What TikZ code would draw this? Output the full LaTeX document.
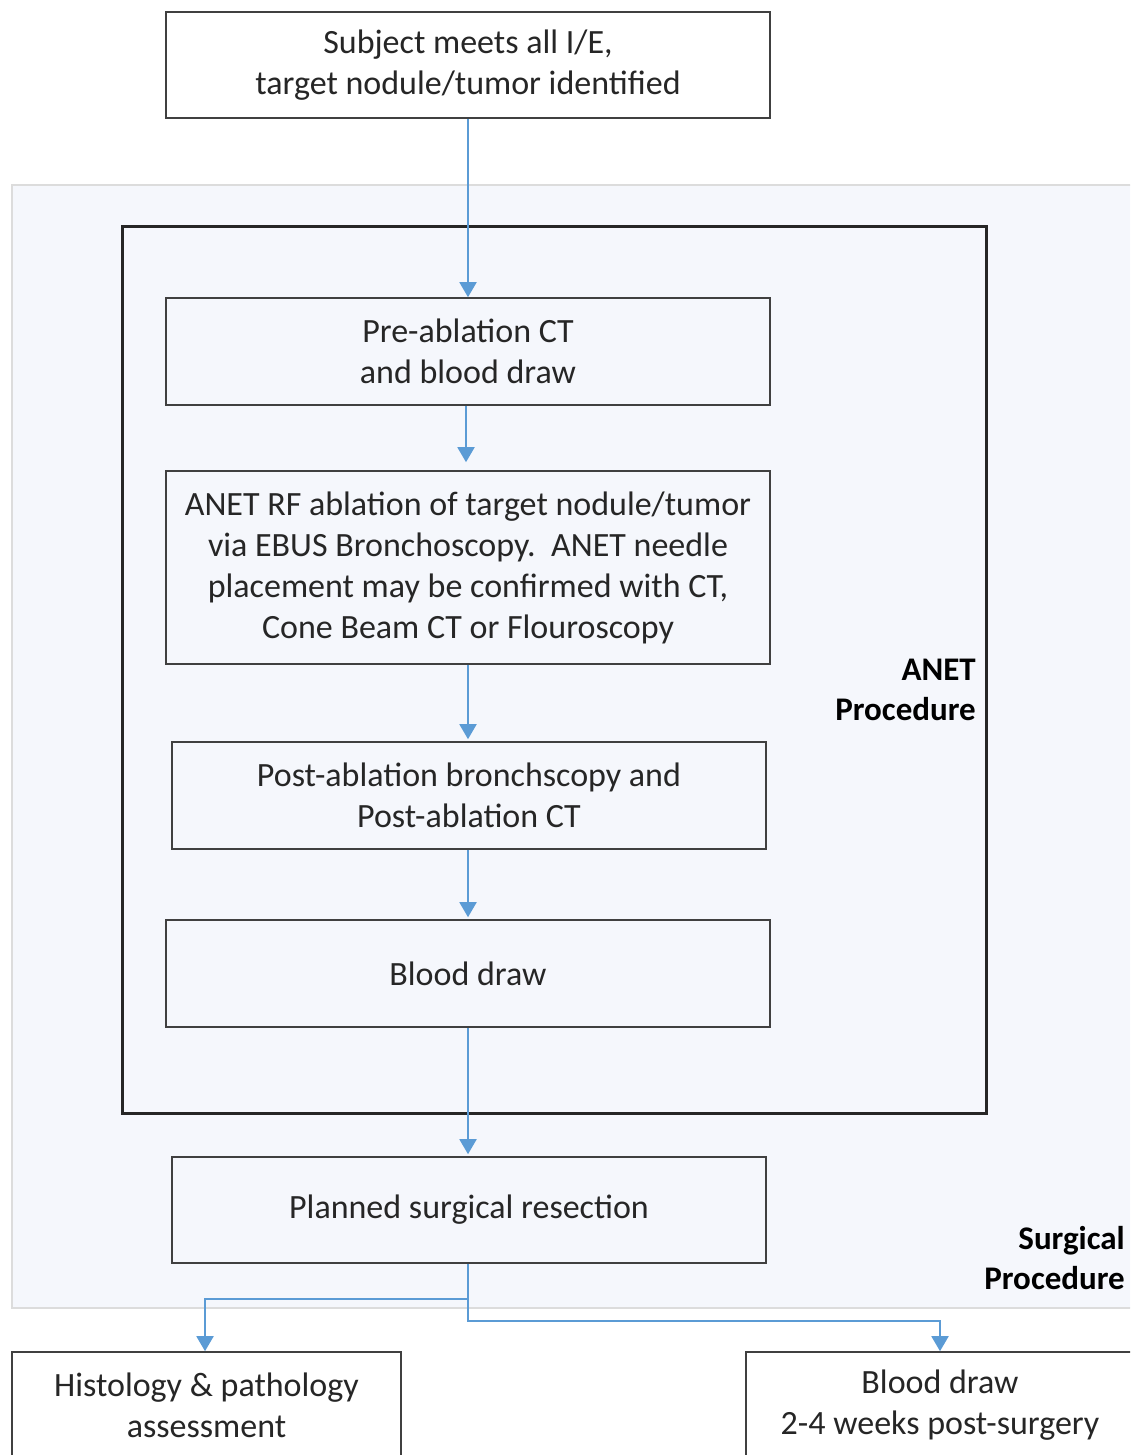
\documentclass[tikz,border=0pt]{standalone}
\usepackage{fontspec}
\setmainfont{Carlito}
\usetikzlibrary{arrows.meta}
\definecolor{arrc}{HTML}{5B9BD5}
\definecolor{boxc}{HTML}{404040}
\definecolor{txtc}{HTML}{262626}
\definecolor{panelfill}{HTML}{F5F7FC}
\definecolor{panelline}{HTML}{DCDCDC}
\begin{document}
\begin{tikzpicture}[x=1pt,y=-1pt,
  stepbox/.style={draw=boxc, line width=1.6pt, inner sep=0pt, align=center,
    text=txtc, font=\fontsize{34}{41}\selectfont},
  lbl/.style={inner sep=0pt, align=right, anchor=east, text=black,
    font=\fontsize{33}{40}\selectfont\bfseries},
  flow/.style={draw=arrc, line width=1.9pt, -{Triangle[width=17pt,length=15pt]}}]
\useasboundingbox (0,0) rectangle (1130,1455);
\clip (0,0) rectangle (1130,1455);
% background panel
\draw[fill=panelfill, draw=panelline, line width=2pt] (12,185) rectangle (1134,1308);
% ANET procedure frame
\node[draw=black!85, line width=3pt, minimum width=864pt, minimum height=886pt, inner sep=0pt] (anet) at (554,670) {};
% steps
\node[stepbox, fill=white, minimum width=604pt, minimum height=106pt] (top) at (468,65)
  {Subject meets all I/E,\\target nodule/tumor identified};
\node[stepbox, minimum width=604pt, minimum height=107pt] (pre) at (468,351.5)
  {Pre-ablation CT\\and blood draw};
\node[stepbox, minimum width=604pt, minimum height=193pt] (rf) at (468,567.5)
  {ANET RF ablation of target nodule/tumor\\via EBUS Bronchoscopy.\ \ ANET needle\\placement may be confirmed with CT,\\Cone Beam CT or Flouroscopy};
\node[stepbox, minimum width=594pt, minimum height=107pt] (post) at (469,795.5)
  {Post-ablation bronchscopy and\\Post-ablation CT};
\node[stepbox, minimum width=604pt, minimum height=107pt] (blood) at (468,973.5)
  {Blood draw};
\node[stepbox, minimum width=594pt, minimum height=106pt] (plan) at (469,1210)
  {Planned surgical resection};
\node[stepbox, fill=white, minimum width=389pt, minimum height=106pt] (hist) at (206.5,1405)
  {Histology \& pathology\\assessment};
\node[stepbox, fill=white, minimum width=388pt, minimum height=106pt] (post2) at (940,1405)
  {Blood draw\\2-4 weeks post-surgery};
% labels
\node[lbl] (anetlbl) at (976,690) {ANET\\Procedure};
\node[lbl] (surglbl) at (1125,1258) {Surgical\\Procedure};
% connectors
\draw[flow] (top.south -| 468,0) -- (pre.north -| 468,0);
\draw[flow, shorten >=8pt] (pre.south -| 466,0) -- (rf.north -| 466,0);
\draw[flow, shorten >=2pt] (rf.south -| 468,0) -- (post.north -| 468,0);
\draw[flow, shorten >=2pt] (post.south -| 468,0) -- (blood.north -| 468,0);
\draw[flow, shorten >=2pt] (blood.south -| 468,0) -- (plan.north -| 468,0);
\draw[flow] (plan.south -| 468,0) -- ++(0,35) -| (hist.north -| 205,0);
\draw[flow] (plan.south -| 468,0) -- ++(0,57) -| (post2.north);
\end{tikzpicture}
\end{document}
